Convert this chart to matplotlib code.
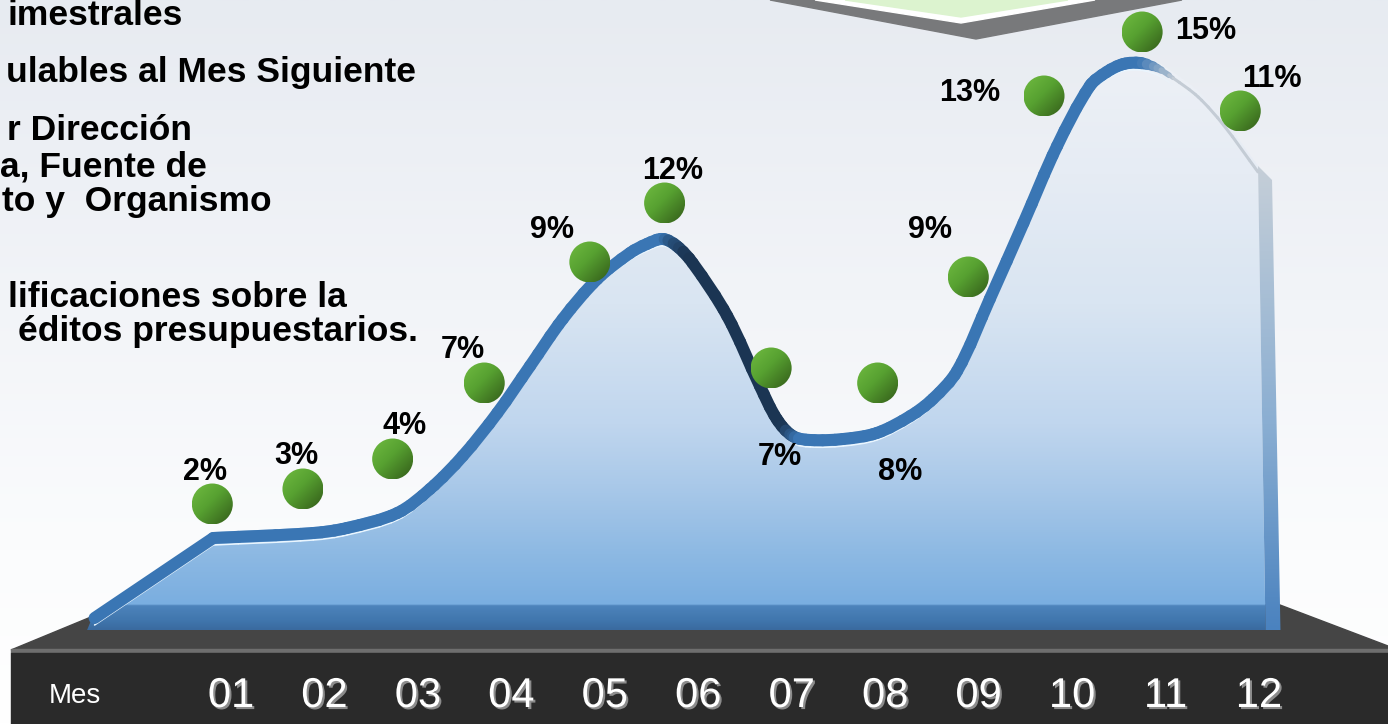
import numpy as np
import matplotlib
matplotlib.use('Agg')
import matplotlib.pyplot as plt
from matplotlib.patches import Polygon, Ellipse
from matplotlib.path import Path
from matplotlib.collections import LineCollection
from matplotlib.colors import to_rgb
from matplotlib.transforms import IdentityTransform
import matplotlib.patheffects as pe

plt.rcParams['font.family'] = ['Liberation Sans', 'DejaVu Sans']

# --- datos ---
meses = ['01', '02', '03', '04', '05', '06', '07', '08', '09', '10', '11', '12']
porcentajes = [2, 3, 4, 7, 9, 12, 7, 8, 9, 13, 15, 11]

# posicion de cada bola sobre la curva (mes, altura)
bola_x = [0.80, 1.77, 2.73, 3.71, 4.84, 5.64, 6.78, 7.92, 8.89, 9.70, 10.75, 11.80]
bola_h = [220, 235, 265, 341, 462, 521, 356, 341, 447, 628, 692, 613]

# borde superior de la curva
curva_x = [-0.46, 0.81, 1.88, 2.24, 2.78, 3.13, 3.48, 3.85, 4.20, 4.55, 4.92, 5.27,
           5.45, 5.62, 5.77, 5.94, 6.31, 6.66, 6.84, 7.01, 7.20, 7.55, 7.91, 8.27,
           8.51, 8.77, 9.12, 9.48, 9.84, 10.19, 10.37, 10.55, 10.73, 10.91, 11.08,
           11.35, 11.62, 11.99]
curva_h = [112, 192, 197, 202, 217, 241, 274, 317, 364, 411, 451, 477,
           486, 491, 484, 467, 414, 344, 311, 294, 290, 291, 297, 314,
           331, 359, 431, 507, 584, 644, 658, 666, 667, 662, 652,
           633, 605, 558]

texto_izq = ['imestrales', 'ulables al Mes Siguiente', 'r Dirección', 'a, Fuente de',
             'to y  Organismo', 'lificaciones sobre la', 'éditos presupuestarios.']

# --- layout ---
W, H = 1388, 724
PX_MES = 93.45          # pixeles por mes
X_MES1 = 231            # pixel del mes 01
base_h = 94             # base del area
fin_x = [12.07, 12.14, 12.23]   # cara derecha
ini_x = -0.54
R = 20.5                # radio de las bolas (px)

# desplazamiento de etiquetas respecto a la bola (pixeles, y hacia arriba)
desp_etq = [(-7, 24), (-7, 25), (12, 25), (-21, 25), (-38, 24), (8, 24),
            (9, -97), (22, -97), (-38, 39), (-74, -5), (64, -7), (32, 24)]
fin_texto = [183, 416, 192, 207, 272, 347, 418]
base_texto = [25, 82, 140, 176, 211, 307, 341]


def gradiente(stops_h, stops_c, hs):
    cols = np.array([to_rgb(c) for c in stops_c])
    return np.stack([np.interp(hs, stops_h, cols[:, k]) for k in range(3)], axis=-1)


fig = plt.figure(figsize=(W / 100, H / 100), dpi=100)

# fondo y decoracion (coordenadas del lienzo)
bg = fig.add_axes([0, 0, 1, 1])
bg.set_xlim(0, W)
bg.set_ylim(H, 0)
bg.axis('off')
ys = np.linspace(0, H, 400)
img = gradiente([0, 300, 550, 724], ['#e7ebf1', '#f2f4f8', '#fbfcfd', '#ffffff'], ys)
bg.imshow(img[:, None, :], extent=(0, W, H, 0), aspect='auto', zorder=0)

bg.add_patch(Polygon([(11, 650), (120, 605), (1280, 605), (1388, 646), (1388, 650)],
                     closed=True, color='#454545', zorder=1))
bg.add_patch(Polygon([(11, 649), (1388, 649), (1388, 653), (11, 653)],
                     closed=True, color='#6e6e6e', zorder=1))
bg.add_patch(Polygon([(11, 653), (1388, 653), (1388, 724), (11, 724)],
                     closed=True, color='#2a2a2a', zorder=1))

bg.add_patch(Polygon([(770, 0), (976, 39), (1182, 0)], closed=True, color='#78797b', zorder=1))
bg.add_patch(Polygon([(815, 0), (961, 23), (1095, 0)], closed=True, color='#ffffff', zorder=1))
bg.add_patch(Polygon([(845, 0), (961, 17), (1068, 0)], closed=True, color='#dcf3cf', zorder=1))

for t, xr, yb in zip(texto_izq, fin_texto, base_texto):
    bg.text(xr, yb, t, ha='right', va='baseline', fontsize=25.5, fontweight='bold',
            color='black', zorder=2)

# grafico
ax = fig.add_axes([0, 0, 1, 1], zorder=2)
ax.patch.set_alpha(0)
xmin = 1 - X_MES1 / PX_MES
xmax = 1 + (W - X_MES1) / PX_MES
ax.set_xlim(xmin, xmax)
ax.set_ylim(0, H)
ax.axis('off')

# curva suave (Bezier) que pasa por los puntos leidos, en pixeles
P = ax.transData.transform(np.column_stack([curva_x, curva_h]))
n = len(P)
tang = np.zeros_like(P)
for i in range(n):
    a = P[max(i - 1, 1 if i == 1 else 0)]
    b = P[min(i + 1, n - 1)]
    v = b - a
    tang[i] = v / max(np.hypot(*v), 1e-9)
verts = [P[0], P[1]]
codes = [Path.MOVETO, Path.LINETO]
for i in range(1, n - 1):
    p1, p2 = P[i], P[i + 1]
    L = np.hypot(*(p2 - p1)) / 3
    verts += [p1 + tang[i] * L, p2 - tang[i + 1] * L, p2]
    codes += [Path.CURVE4] * 3
ruta = Path(np.array(verts), codes)
linea = ruta.to_polygons(closed_only=False)[0]
linea = linea[np.r_[True, np.any(np.diff(linea, axis=0) != 0, axis=1)]]
linea_d = ax.transData.inverted().transform(linea)

# area con degradado
area = Polygon(list(map(tuple, linea_d)) + [(fin_x[0], base_h), (ini_x, base_h)],
               closed=True, facecolor='none', edgecolor='none')
ax.add_patch(area)
hs = np.linspace(base_h, 680, 700)
img = gradiente([94, 104, 118, 119.5, 170, 240, 300, 420, 550, 680],
                ['#3a6a9f', '#4177ae', '#4d83bb', '#7aaee0', '#8db9e3', '#aac9e9',
                 '#c0d6ee', '#d9e5f2', '#e6ecf4', '#eef1f6'], hs)
im = ax.imshow(img[:, None, :], extent=(xmin, xmax, base_h, 680), origin='lower',
               aspect='auto', zorder=1)
im.set_clip_path(area)

cara = Polygon([(curva_x[-1], curva_h[-1]), (fin_x[1], curva_h[-1] - 14),
                (fin_x[2], base_h), (fin_x[0], base_h)],
               closed=True, facecolor='none', edgecolor='none')
ax.add_patch(cara)
img2 = gradiente([94, 300, 560], ['#4a82bf', '#8aaed2', '#c6cfd8'], hs)
im2 = ax.imshow(img2[:, None, :], extent=(xmin, xmax, base_h, 680), origin='lower',
                aspect='auto', zorder=1)
im2.set_clip_path(cara)

# cinta sobre la curva (en pixeles)
segs = np.stack([linea[:-1], linea[1:]], axis=1)
xmid = ax.transData.inverted().transform((linea[:-1] + linea[1:]) / 2)[:, 0]
d = np.diff(linea, axis=0)
pend = d[:, 1] / np.where(d[:, 0] == 0, 1e-6, d[:, 0])
t_osc = np.clip((-pend - 0.15) / 1.0, 0, 1) * (xmid < 10)
t_gris = np.interp(xmid, [10.75, 11.1], [0, 1])
azul, marino, gris = (np.array(to_rgb(c)) for c in ('#3a76b4', '#1b3553', '#c4ccd5'))
col = azul * (1 - t_osc[:, None]) + marino * t_osc[:, None]
col = col * (1 - t_gris[:, None]) + gris * t_gris[:, None]
anchos = np.interp(xmid, [10.75, 11.1], [12, 3]) * 0.72

brillo = np.column_stack([np.full((len(xmid), 3), to_rgb('#eaf6ff')),
                          (1 - t_osc) * (1 - t_gris)])
ax.add_collection(LineCollection(segs + [0, -13], colors=brillo, linewidths=1.6 * 0.72,
                                 transform=IdentityTransform(), capstyle='round', zorder=2))
ax.add_collection(LineCollection(segs + [0, -6], colors=col, linewidths=anchos,
                                 transform=IdentityTransform(), capstyle='round',
                                 joinstyle='round', zorder=3))

# bolas verdes con degradado diagonal
u, v = np.meshgrid(np.linspace(0, 1, 48), np.linspace(0, 1, 48))
t_b = (u + (1 - v)) / 2
img_b = gradiente([0, 0.45, 1], ['#70bb41', '#57a131', '#335c19'], t_b)
ancho_b = 2 * R / PX_MES
for bx, bh in zip(bola_x, bola_h):
    bola = Ellipse((bx, bh), width=ancho_b, height=2 * R, facecolor='none', edgecolor='none')
    ax.add_patch(bola)
    ib = ax.imshow(img_b, extent=(bx - ancho_b / 2, bx + ancho_b / 2, bh - R, bh + R),
                   origin='lower', aspect='auto', zorder=5, interpolation='bilinear')
    ib.set_clip_path(bola)

# etiquetas de porcentaje
for bx, bh, p, (dx, dy) in zip(bola_x, bola_h, porcentajes, desp_etq):
    ax.annotate(f'{p}%', (bx, bh), xytext=(dx, dy), textcoords='offset pixels',
                ha='center', va='baseline', fontsize=22, fontweight='bold',
                color='black', zorder=6)

# meses
sombra = [pe.withSimplePatchShadow(offset=(1.5, -1.5), shadow_rgbFace='#8c8c8c', alpha=1.0)]
for i, m in enumerate(meses):
    ax.text(i + 1, 17, m, ha='center', va='baseline', fontsize=30, color='white',
            path_effects=sombra, zorder=6)
ax.text(1 + (75 - X_MES1) / PX_MES, 21, 'Mes', ha='center', va='baseline', fontsize=20,
        color='white', zorder=6)

ax.set_xlim(xmin, xmax)
ax.set_ylim(0, H)
fig.savefig('out.png', dpi=100)
